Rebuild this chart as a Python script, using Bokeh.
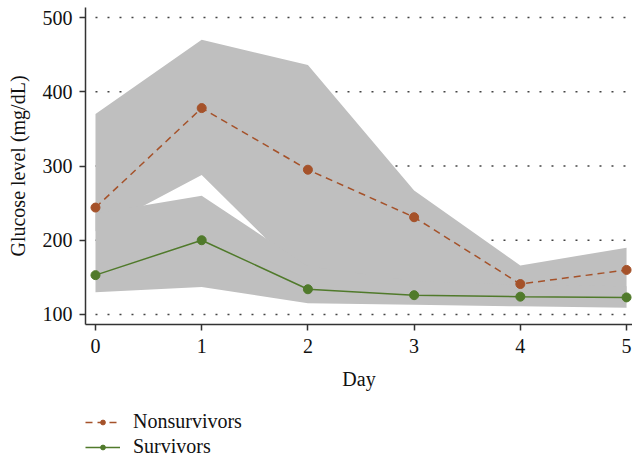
from bokeh.plotting import figure
from bokeh.layouts import column
from bokeh.models import Range1d, FixedTicker, Legend, LegendItem
from bokeh.embed import file_html
from bokeh.resources import INLINE

# ---- data ----
days = [0, 1, 2, 3, 4, 5]
y_ticks = [100, 200, 300, 400, 500]

ns_mean = [244, 378, 295, 231, 141, 160]
ns_upper = [370, 470, 436, 267, 166, 190]
ns_lower = [212, 288, 146, 140, 115, 125]

s_mean = [153, 200, 134, 126, 124, 123]
s_upper = [236, 260, 165, 145, 140, 138]
s_lower = [130, 137, 115, 113, 111, 109]

series_names = ["Nonsurvivors", "Survivors"]

NS_COLOR = "#A5522A"
S_COLOR = "#507A2B"
BAND = "#BFBFBF"
FONT = "Liberation Serif"
AX = "#333333"
TXT = "#111111"

p = figure(width=632, height=400, output_backend="svg", toolbar_location=None,
           x_range=Range1d(-0.094, 5.056), y_range=Range1d(86.5, 513.5),
           min_border_left=85, min_border_right=0, min_border_top=7,
           min_border_bottom=76)
p.outline_line_color = None
p.xgrid.visible = False
p.ygrid.visible = False

# dotted horizontal guide lines
p.segment(x0=min(days), x1=max(days), y0=y_ticks, y1=y_ticks,
          line_color="#444444", line_width=1.6, line_dash="2 10", level="underlay")

# bands
p.varea(x=days, y1=ns_lower, y2=ns_upper, fill_color=BAND, fill_alpha=1)
p.varea(x=days, y1=s_lower, y2=s_upper, fill_color=BAND, fill_alpha=1)


def draw_series(fig, size):
    a = fig.line(days, ns_mean, line_color=NS_COLOR, line_width=1.5, line_dash="7 5")
    b = fig.scatter(days, ns_mean, size=size, fill_color=NS_COLOR, line_color=NS_COLOR)
    c = fig.line(days, s_mean, line_color=S_COLOR, line_width=1.5)
    d = fig.scatter(days, s_mean, size=size, fill_color=S_COLOR, line_color=S_COLOR)
    return [a, b], [c, d]


draw_series(p, 9)

# axes
for ax in (p.xaxis[0], p.yaxis[0]):
    ax.axis_line_color = AX
    ax.axis_line_width = 1.5
    ax.major_tick_line_color = AX
    ax.major_tick_line_width = 1.5
    ax.major_tick_out = 6
    ax.major_tick_in = 0
    ax.minor_tick_out = 0
    ax.minor_tick_in = 0
    ax.major_label_text_font = FONT
    ax.major_label_text_font_size = "20px"
    ax.major_label_text_color = TXT
    ax.axis_label_text_font = FONT
    ax.axis_label_text_font_size = "20px"
    ax.axis_label_text_font_style = "normal"
    ax.axis_label_text_color = TXT

p.xaxis.ticker = FixedTicker(ticks=days)
p.yaxis.ticker = FixedTicker(ticks=y_ticks)
p.xaxis.axis_label = "Day"
p.yaxis.axis_label = "Glucose level (mg/dL)"
p.xaxis.major_label_standoff = 8
p.xaxis.axis_label_standoff = 12
p.yaxis.major_label_standoff = 7
p.yaxis.axis_label_standoff = 11

# ---- legend strip below the plot ----
lg = figure(width=632, height=58, output_backend="svg", toolbar_location=None,
            x_range=Range1d(1000, 1001), y_range=Range1d(1000, 1001),
            x_axis_location=None, y_axis_location=None,
            min_border_left=0, min_border_right=0, min_border_top=0,
            min_border_bottom=0)
lg.outline_line_color = None
lg.xgrid.visible = False
lg.ygrid.visible = False
ns_r, s_r = draw_series(lg, 9)

legend = Legend(items=[
    LegendItem(label=series_names[0], renderers=ns_r),
    LegendItem(label=series_names[1], renderers=s_r),
], location=(0, 0), orientation="vertical")
legend.border_line_color = None
legend.background_fill_alpha = 0
legend.glyph_width = 35
legend.glyph_height = 12
legend.label_height = 20
legend.label_standoff = 13
legend.spacing = 2
legend.padding = 0
legend.margin = 0
legend.label_text_font = FONT
legend.label_text_font_size = "20px"
legend.label_text_color = TXT
lg.add_layout(legend)

layout = column(p, lg, spacing=0)
open("out.html", "w").write(file_html(layout, INLINE))
